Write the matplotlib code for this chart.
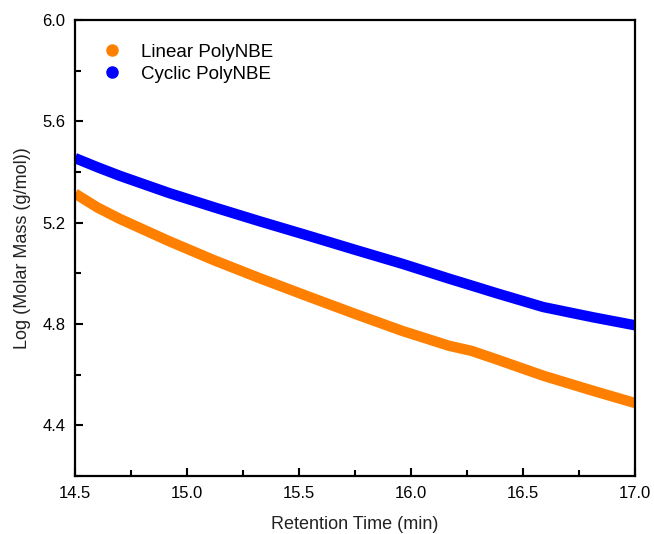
import matplotlib.pyplot as plt
from matplotlib.lines import Line2D
from matplotlib.ticker import MultipleLocator

plt.rcParams['font.family'] = ['Liberation Sans', 'DejaVu Sans']

time = [14.5, 14.6, 14.7, 14.92, 15.12, 15.33, 15.54, 15.75, 15.96, 16.17, 16.27, 16.38, 16.59, 16.81, 17.0]
linear = [5.315, 5.26, 5.215, 5.127, 5.052, 4.979, 4.909, 4.84, 4.773, 4.714, 4.694, 4.661, 4.596, 4.537, 4.488]
cyclic = [5.455, 5.419, 5.385, 5.317, 5.261, 5.204, 5.149, 5.093, 5.038, 4.979, 4.952, 4.922, 4.867, 4.827, 4.795]

orange = '#FF8000'
blue = '#0000FF'

fig = plt.figure(figsize=(6.54, 5.34), dpi=100)
ax = fig.add_axes([0.1147, 0.1086, 0.8563, 0.8539])

ax.plot(time, linear, color=orange, lw=7.5, solid_capstyle='butt', solid_joinstyle='round')
ax.plot(time, cyclic, color=blue, lw=7.5, solid_capstyle='butt', solid_joinstyle='round')

ax.set_xlim(14.5, 17.0)
ax.set_ylim(4.2, 6.0)
ax.xaxis.set_major_locator(MultipleLocator(0.5))
ax.xaxis.set_minor_locator(MultipleLocator(0.25))
ax.yaxis.set_minor_locator(MultipleLocator(0.2))
ax.set_yticks([4.4, 4.8, 5.2, 5.6, 6.0])
ax.set_yticklabels(['4.4', '4.8', '5.2', '5.6', '6.0'])
ax.tick_params(which='both', direction='in', width=1.5, labelsize=12, colors='black')
ax.tick_params(which='major', length=6, pad=7)
ax.tick_params(which='minor', length=4)
for s in ax.spines.values():
    s.set_linewidth(1.6)

ax.set_xlabel('Retention Time (min)', fontsize=13, labelpad=11, color='#222222')
ax.set_ylabel('Log (Molar Mass (g/mol))', fontsize=13, labelpad=8, color='#222222')

handles = [Line2D([], [], ls='none', marker='o', ms=8, color=orange),
           Line2D([], [], ls='none', marker='o', ms=8, color=blue)]
ax.legend(handles, ['Linear PolyNBE', 'Cyclic PolyNBE'], loc='upper left',
          bbox_to_anchor=(0.01, 0.985), frameon=False, fontsize=13.5,
          handletextpad=0.8, labelspacing=0.25, handlelength=1.5)

fig.savefig('out.png', dpi=100)
